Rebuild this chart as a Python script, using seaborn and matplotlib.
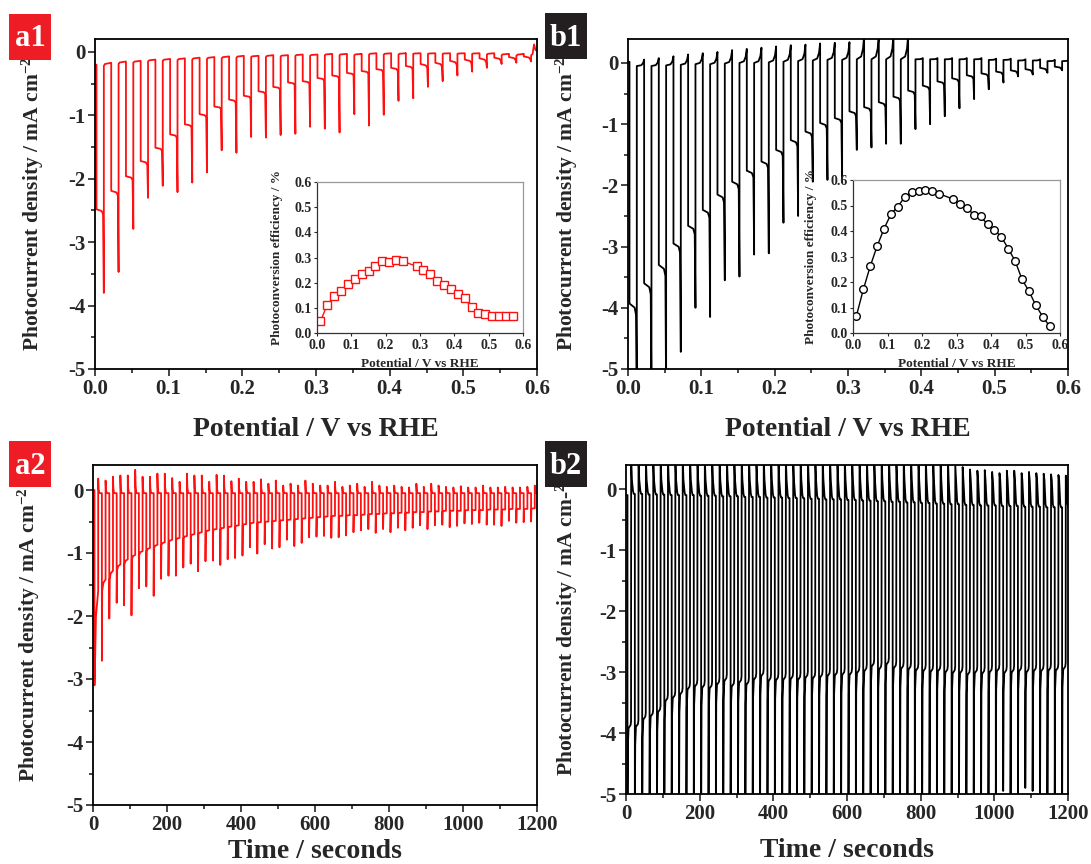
import numpy as np
import pandas as pd
import matplotlib
matplotlib.use("Agg")
import matplotlib.pyplot as plt
import seaborn as sns
from matplotlib.ticker import MultipleLocator
from matplotlib.patches import Rectangle

# ---------------- data ----------------
# a1: chopped-light LSV (red), 30 light cycles, period 0.02 V
a1_light_start = [-2.48, -2.19, -1.96, -1.72, -1.51, -1.30, -1.14, -0.98, -0.86, -0.75,
                  -0.69, -0.62, -0.55, -0.48, -0.46, -0.41, -0.37, -0.33, -0.30, -0.27,
                  -0.25, -0.22, -0.19, -0.17, -0.14, -0.12, -0.10, -0.09, -0.08, -0.07]
a1_light_end = [-2.56, -2.26, -2.02, -1.78, -1.56, -1.35, -1.19, -1.03, -0.90, -0.80,
                -0.73, -0.66, -0.59, -0.52, -0.50, -0.45, -0.41, -0.37, -0.34, -0.31,
                -0.30, -0.27, -0.25, -0.23, -0.20, -0.18, -0.16, -0.14, -0.13, -0.12]
a1_spike = [-3.80, -3.47, -2.79, -2.30, -2.11, -2.21, -2.06, -1.90, -1.55, -1.59,
            -1.34, -1.35, -1.31, -1.29, -1.18, -1.21, -1.27, -0.98, -1.16, -0.99,
            -0.77, -0.73, -0.55, -0.46, -0.37, -0.31, -0.25, -0.19, -0.17, -0.15]
a1_dark_start = [-0.22, -0.19, -0.17, -0.15, -0.14, -0.13, -0.12, -0.11, -0.10, -0.09,
                 -0.08, -0.08, -0.07, -0.06, -0.06, -0.05, -0.05, -0.05, -0.04, -0.04,
                 -0.04, -0.03, -0.03, -0.03, -0.03, -0.03, -0.04, -0.05, -0.06, -0.05]
a1_dark_end = [-0.17, -0.15, -0.14, -0.12, -0.11, -0.10, -0.09, -0.08, -0.07, -0.06,
               -0.06, -0.05, -0.05, -0.04, -0.04, -0.03, -0.03, -0.03, -0.02, -0.02,
               -0.02, -0.02, -0.02, -0.02, -0.02, -0.02, -0.02, -0.03, -0.03, -0.03]
a1_initial = -0.20
a1_tail_x = [0.594, 0.596, 0.598, 0.600]
a1_tail_y = [-0.03, 0.12, 0.03, 0.02]

# b1: chopped-light LSV (black)
b1_light_start = [-3.93, -3.60, -3.30, -2.95, -2.66, -2.40, -2.15, -1.94, -1.76, -1.61,
                  -1.42, -1.26, -1.12, -0.98, -0.90, -0.79, -0.72, -0.64, -0.55, -0.45,
                  -0.37, -0.30, -0.25, -0.20, -0.17, -0.14, -0.12, -0.10, -0.08, -0.06]
b1_light_end = [-4.12, -3.78, -3.48, -3.10, -2.80, -2.53, -2.28, -2.06, -1.87, -1.72,
                -1.52, -1.36, -1.21, -1.07, -0.98, -0.87, -0.80, -0.72, -0.62, -0.52,
                -0.44, -0.36, -0.31, -0.26, -0.22, -0.19, -0.17, -0.15, -0.13, -0.10]
b1_spike = [-5.50, -5.50, -5.50, -4.72, -4.00, -4.15, -3.55, -3.49, -3.13, -3.11,
            -2.61, -2.50, -1.94, -1.91, -1.95, -1.42, -1.38, -1.32, -1.32, -1.08,
            -1.00, -0.87, -0.74, -0.59, -0.43, -0.32, -0.22, -0.19, -0.16, -0.12]
b1_dark_start = [-0.05, -0.05, -0.04, -0.03, -0.02, -0.02, -0.01, 0.00, 0.00, 0.01,
                 0.02, 0.03, 0.04, 0.05, 0.05, 0.06, 0.06, 0.06, 0.06, 0.06,
                 0.06, 0.06, 0.06, 0.06, 0.05, 0.05, 0.04, 0.04, 0.03, 0.03]
b1_dark_top = [0.055, 0.08, 0.11, 0.14, 0.16, 0.18, 0.21, 0.23, 0.25, 0.27,
               0.29, 0.30, 0.32, 0.33, 0.34, 0.45, 0.45, 0.45, 0.45, 0.08,
               0.08, 0.08, 0.08, 0.08, 0.07, 0.07, 0.06, 0.06, 0.05, 0.06]
b1_initial = 0.02

# insets: photoconversion efficiency
eff_potential = [0.01, 0.03, 0.05, 0.07, 0.09, 0.11, 0.13, 0.15, 0.17, 0.19, 0.21, 0.23, 0.25,
                 0.29, 0.31, 0.33, 0.35, 0.37, 0.39, 0.41, 0.43, 0.45, 0.47, 0.49, 0.51, 0.53,
                 0.55, 0.57]
eff_a1 = [0.046, 0.113, 0.146, 0.168, 0.196, 0.215, 0.233, 0.246, 0.266, 0.287, 0.282, 0.292,
          0.285, 0.265, 0.250, 0.233, 0.205, 0.192, 0.173, 0.156, 0.138, 0.103, 0.080, 0.077,
          0.066, 0.066, 0.066, 0.066]
eff_b1 = [0.068, 0.171, 0.262, 0.341, 0.409, 0.466, 0.496, 0.533, 0.551, 0.558, 0.560, 0.558,
          0.546, 0.525, 0.505, 0.492, 0.463, 0.457, 0.426, 0.404, 0.377, 0.331, 0.282, 0.210,
          0.164, 0.108, 0.064, 0.026]

# a2: chopped-light chronoamperometry (red), 60 cycles of 20 s
a2_spike = [-3.10, -2.71, -2.04, -1.79, -1.83, -1.99, -1.56, -1.53, -1.68, -1.41,
            -1.36, -1.36, -1.23, -1.17, -1.29, -1.13, -1.12, -1.19, -1.10, -1.08,
            -1.04, -0.91, -1.01, -0.86, -0.93, -0.91, -0.79, -0.89, -0.84, -0.75,
            -0.74, -0.73, -0.76, -0.75, -0.72, -0.67, -0.64, -0.62, -0.68, -0.62,
            -0.67, -0.60, -0.64, -0.60, -0.56, -0.62, -0.56, -0.55, -0.59, -0.57,
            -0.53, -0.54, -0.52, -0.55, -0.55, -0.57, -0.49, -0.52, -0.51, -0.50]
a2_plateau = [-1.60, -1.42, -1.28, -1.18, -1.10, -1.03, -0.97, -0.92, -0.87, -0.83,
              -0.79, -0.76, -0.73, -0.70, -0.67, -0.64, -0.62, -0.60, -0.58, -0.56,
              -0.54, -0.52, -0.51, -0.50, -0.49, -0.48, -0.47, -0.46, -0.45, -0.44,
              -0.43, -0.42, -0.41, -0.41, -0.40, -0.40, -0.39, -0.38, -0.38, -0.37,
              -0.37, -0.36, -0.36, -0.35, -0.35, -0.34, -0.34, -0.33, -0.33, -0.33,
              -0.32, -0.32, -0.32, -0.31, -0.31, -0.31, -0.30, -0.30, -0.30, -0.29]
a2_top = [0.18, 0.15, 0.21, 0.23, 0.23, 0.32, 0.21, 0.21, 0.26, 0.26,
          0.19, 0.13, 0.26, 0.23, 0.23, 0.13, 0.24, 0.23, 0.14, 0.18,
          0.13, 0.13, 0.17, 0.10, 0.15, 0.07, 0.10, 0.07, 0.15, 0.10,
          0.07, 0.07, 0.13, 0.05, 0.07, 0.10, 0.05, 0.13, 0.07, 0.05,
          0.07, 0.05, 0.04, 0.10, 0.05, 0.10, 0.07, 0.05, 0.04, 0.06,
          0.04, 0.04, 0.07, 0.04, 0.04, 0.05, 0.04, 0.04, 0.05, 0.07]
a2_dark = -0.05
a2_first_plateau = -2.95

# b2: chopped-light chronoamperometry (black)
b2_spike = [-5.40, -5.40, -5.40, -5.40, -5.40, -5.40, -5.40, -5.40, -5.40, -5.40,
            -5.40, -5.40, -5.40, -5.40, -5.40, -5.40, -5.40, -5.40, -5.40, -5.40,
            -5.40, -5.40, -5.40, -5.40, -5.40, -5.40, -5.40, -5.40, -5.40, -5.40,
            -5.40, -5.40, -5.40, -5.40, -5.40, -5.40, -5.40, -5.40, -5.40, -5.40,
            -5.40, -5.40, -5.40, -5.40, -5.40, -5.40, -5.40, -5.40, -5.40, -5.40,
            -5.40, -4.95, -5.40, -5.40, -4.90, -4.95, -5.40, -5.40, -5.40, -5.40]
b2_plateau = [-3.87, -3.85, -3.73, -3.68, -3.61, -3.43, -3.38, -3.32, -3.24, -3.19,
              -3.21, -3.22, -3.16, -3.10, -3.19, -3.13, -3.16, -3.08, -3.02, -3.10,
              -3.09, -3.08, -3.07, -3.08, -3.05, -3.06, -3.04, -3.02, -3.01, -3.00,
              -3.00, -2.97, -2.94, -2.86, -2.91, -2.83, -2.89, -2.90, -2.91, -2.93,
              -2.94, -2.95, -2.94, -2.96, -2.97, -2.97, -3.00, -2.97, -2.98, -2.96,
              -2.94, -2.97, -2.96, -2.94, -2.96, -2.94, -2.94, -2.93, -2.93, -2.91]
b2_top = [0.50, 0.50, 0.50, 0.50, 0.50, 0.50, 0.50, 0.50, 0.50, 0.50,
          0.50, 0.50, 0.50, 0.50, 0.50, 0.50, 0.50, 0.50, 0.50, 0.50,
          0.50, 0.50, 0.50, 0.50, 0.50, 0.50, 0.50, 0.50, 0.50, 0.50,
          0.50, 0.50, 0.50, 0.50, 0.50, 0.50, 0.50, 0.50, 0.50, 0.50,
          0.50, 0.50, 0.50, 0.50, 0.39, 0.36, 0.32, 0.30, 0.31, 0.28,
          0.26, 0.30, 0.30, 0.26, 0.28, 0.26, 0.25, 0.24, 0.23, 0.22]
b2_dark = [-0.08, -0.08, -0.09, -0.09, -0.09, -0.10, -0.10, -0.10, -0.10, -0.11,
           -0.11, -0.11, -0.12, -0.12, -0.12, -0.13, -0.13, -0.13, -0.14, -0.14,
           -0.14, -0.15, -0.15, -0.15, -0.16, -0.16, -0.17, -0.17, -0.17, -0.18,
           -0.18, -0.19, -0.19, -0.20, -0.20, -0.21, -0.21, -0.22, -0.22, -0.23,
           -0.23, -0.24, -0.24, -0.25, -0.25, -0.26, -0.26, -0.27, -0.27, -0.27,
           -0.28, -0.28, -0.28, -0.29, -0.29, -0.29, -0.30, -0.30, -0.30, -0.30]
b2_initial = -0.10

# chopping schedule
lsv_first_on, lsv_period, lsv_light = 0.002, 0.02, 0.010
ca_first_on, ca_period, ca_light = 4.0, 20.0, 10.0

# ---------------- build the traces from the cycle values ----------------
def lsv_trace(P, Pe, S, Ds, Dtop, initial, hook):
    x, y = [0.0], [initial]
    for k in range(len(P)):
        on = lsv_first_on + lsv_period * k
        off = on + lsv_light
        nxt = on + lsv_period
        prev = y[-1]
        x += [on, on, off - 0.003, off - 0.001, off, off]
        y += [prev, P[k], P[k] + 0.35 * (Pe[k] - P[k]), Pe[k], S[k], Ds[k]]
        if hook:
            x += [nxt - 0.004, nxt - 0.0015, nxt]
            y += [Ds[k] + 0.12 * (Dtop[k] - Ds[k]), Ds[k] + 0.45 * (Dtop[k] - Ds[k]), Dtop[k]]
        else:
            x += [off + 0.0015, nxt]
            y += [Ds[k] + 0.6 * (Dtop[k] - Ds[k]), Dtop[k]]
    return np.array(x), np.array(y)


def a2_trace():
    x, y = [0.0], [0.0]
    for k in range(len(a2_plateau)):
        on = ca_first_on + ca_period * k
        off = on + ca_light
        prev = y[-1]
        p0 = a2_first_plateau if k == 0 else a2_plateau[k - 1]
        x += [on, on, on + 0.8, on + 4.0, off, off, off + 1.0, off + 3.0]
        y += [prev, a2_spike[k], p0, p0 + 0.7 * (a2_plateau[k] - p0), a2_plateau[k],
              a2_top[k], a2_dark + 0.3 * (a2_top[k] - a2_dark), a2_dark]
    x.append(1200.0); y.append(a2_dark)
    return np.array(x), np.array(y)


def b2_trace():
    x, y = [0.0], [b2_initial]
    for k in range(len(b2_plateau)):
        on = ca_first_on + ca_period * k
        off = on + ca_light
        prev = y[-1]
        P = b2_plateau[k]
        x += [on, on, on + 1.0, on + 3.0, off - 1.5, off - 0.3, off, off + 2.0, off + 5.0, off + 7.0]
        y += [prev, b2_spike[k], P - 0.35, P - 0.05, P, P + 0.06, b2_top[k],
              0.15, b2_dark[k] + 0.05, b2_dark[k]]
    x.append(1200.0); y.append(b2_dark[-1])
    return np.array(x), np.array(y)


a1x, a1y = lsv_trace(a1_light_start, a1_light_end, a1_spike, a1_dark_start, a1_dark_end,
                     a1_initial, hook=False)
keep = a1x < a1_tail_x[0]
a1x = np.concatenate([a1x[keep], a1_tail_x])
a1y = np.concatenate([a1y[keep], a1_tail_y])
b1x, b1y = lsv_trace(b1_light_start, b1_light_end, b1_spike, b1_dark_start, b1_dark_top,
                     b1_initial, hook=True)
a2x, a2y = a2_trace()
b2x, b2y = b2_trace()

# ---------------- figure ----------------
sns.set_theme(style="ticks")
plt.rcParams.update({
    "font.family": ["Liberation Serif", "DejaVu Serif"],
    "font.weight": "bold",
    "axes.labelweight": "bold",
    "axes.unicode_minus": False,
    "mathtext.fontset": "custom",
    "mathtext.rm": "Liberation Serif:bold",
    "mathtext.it": "Liberation Serif:bold",
    "mathtext.bf": "Liberation Serif:bold",
})

W, H = 1091, 864
fig = plt.figure(figsize=(W / 100, H / 100), dpi=100)


def rect(l, r, t, b):
    return [l / W, 1 - b / H, (r - l) / W, (b - t) / H]


RED = "#ff1010"
BLACK = "#000000"
YLAB = r"Photocurrent density / mA cm$^{-2}$"


def style_main(ax, xmaj, xmin_, ylim, xlim):
    ax.set_xlim(*xlim)
    ax.set_ylim(*ylim)
    ax.xaxis.set_major_locator(MultipleLocator(xmaj))
    ax.xaxis.set_minor_locator(MultipleLocator(xmin_))
    ax.yaxis.set_major_locator(MultipleLocator(1))
    ax.yaxis.set_minor_locator(MultipleLocator(0.5))
    ax.tick_params(which="both", direction="out", top=False, right=False, width=1.2,
                   labelsize=15, pad=2)
    ax.tick_params(which="major", length=5)
    ax.tick_params(which="minor", length=3)
    for s in ax.spines.values():
        s.set_linewidth(1.3)
        s.set_color("black")
        s.set_visible(True)


def draw_main(rect_px, x, y, color, xlim, xmaj, xmin_, ylim, xlabel, ylabel, xlab_y, ylab_x):
    ax = fig.add_axes(rect(*rect_px))
    df = pd.DataFrame({"x": x, "y": y})
    sns.lineplot(data=df, x="x", y="y", ax=ax, color=color, lw=1.3, sort=False,
                 estimator=None, legend=False)
    style_main(ax, xmaj, xmin_, ylim, xlim)
    ax.set_xlabel(xlabel, fontsize=20, fontweight="bold")
    ax.set_ylabel(ylabel, fontsize=15.5, fontweight="bold")
    ax.xaxis.set_label_coords(0.5, xlab_y)
    ax.yaxis.set_label_coords(ylab_x, 0.5)
    return ax


def fmt1(v, pos):
    return f"{v:.1f}"


axA1 = draw_main((95, 537, 39.3, 369), a1x, a1y, RED, (0, 0.6), 0.1, 0.05, (-5, 0.2),
                 "Potential / V vs RHE", YLAB, -0.145, -0.11)
axB1 = draw_main((628, 1068, 38.5, 369), b1x, b1y, BLACK, (0, 0.6), 0.1, 0.05, (-5, 0.4),
                 "Potential / V vs RHE", YLAB, -0.145, -0.11)
axA2 = draw_main((93, 537, 464.8, 805), a2x, a2y, RED, (0, 1200), 200, 100, (-5, 0.4),
                 "Time / seconds", YLAB, -0.10, -0.115)
axB2 = draw_main((626, 1068, 464.6, 794), b2x, b2y, BLACK, (0, 1200), 200, 100, (-5, 0.4),
                 "Time / seconds", r"Photocurrent density / mA cm-$^{2}$", -0.135, -0.105)
for ax in (axA1, axB1):
    ax.xaxis.set_major_formatter(plt.FuncFormatter(fmt1))
for ax in (axA1, axB1, axA2, axB2):
    ax.yaxis.set_major_formatter(plt.FuncFormatter(lambda v, p: f"{v:.0f}"))


def draw_inset(rect_px, yvals, color, marker, ylab_x):
    ax = fig.add_axes(rect(*rect_px))
    ax.set_facecolor("white")
    df = pd.DataFrame({"x": eff_potential, "y": yvals})
    sns.lineplot(data=df, x="x", y="y", ax=ax, color=color, lw=1.0, sort=False,
                 estimator=None, marker=marker, markersize=5.5, markerfacecolor="white",
                 markeredgecolor=color, markeredgewidth=1.0, legend=False)
    ax.set_xlim(0, 0.6)
    ax.set_ylim(0, 0.6)
    ax.xaxis.set_major_locator(MultipleLocator(0.1))
    ax.yaxis.set_major_locator(MultipleLocator(0.1))
    ax.xaxis.set_major_formatter(plt.FuncFormatter(fmt1))
    ax.yaxis.set_major_formatter(plt.FuncFormatter(fmt1))
    ax.tick_params(direction="out", top=False, right=False, length=2.5, width=0.8,
                   labelsize=10, pad=1.5)
    for name, s in ax.spines.items():
        s.set_linewidth(0.9)
        s.set_color("#333333" if name in ("left", "bottom") else "#999999")
    ax.set_xlabel("Potential / V vs RHE", fontsize=9.5, fontweight="bold")
    ax.set_ylabel("Photoconversion efficiency / %", fontsize=9.5, fontweight="bold")
    ax.xaxis.set_label_coords(0.5, -0.165)
    ax.yaxis.set_label_coords(ylab_x, 0.5)
    return ax


draw_inset((317, 523, 182, 333), eff_a1, RED, "s", -0.165)
draw_inset((853, 1060, 180, 333), eff_b1, BLACK, "o", -0.175)

# panel tags
for (l, t, txt, col) in [(9, 14, "a1", "#ee1c24"), (545, 13, "b1", "#231f20"),
                         (9, 441, "a2", "#ee1c24"), (545, 441, "b2", "#231f20")]:
    fig.patches.append(Rectangle((l / W, 1 - (t + 46) / H), 42 / W, 46 / H,
                                 transform=fig.transFigure, facecolor=col,
                                 edgecolor="none"))
    fig.text((l + 21) / W, 1 - (t + 25) / H, txt, color="white", fontsize=22,
             fontweight="bold", ha="center", va="center")

fig.savefig("out.png", dpi=100)
